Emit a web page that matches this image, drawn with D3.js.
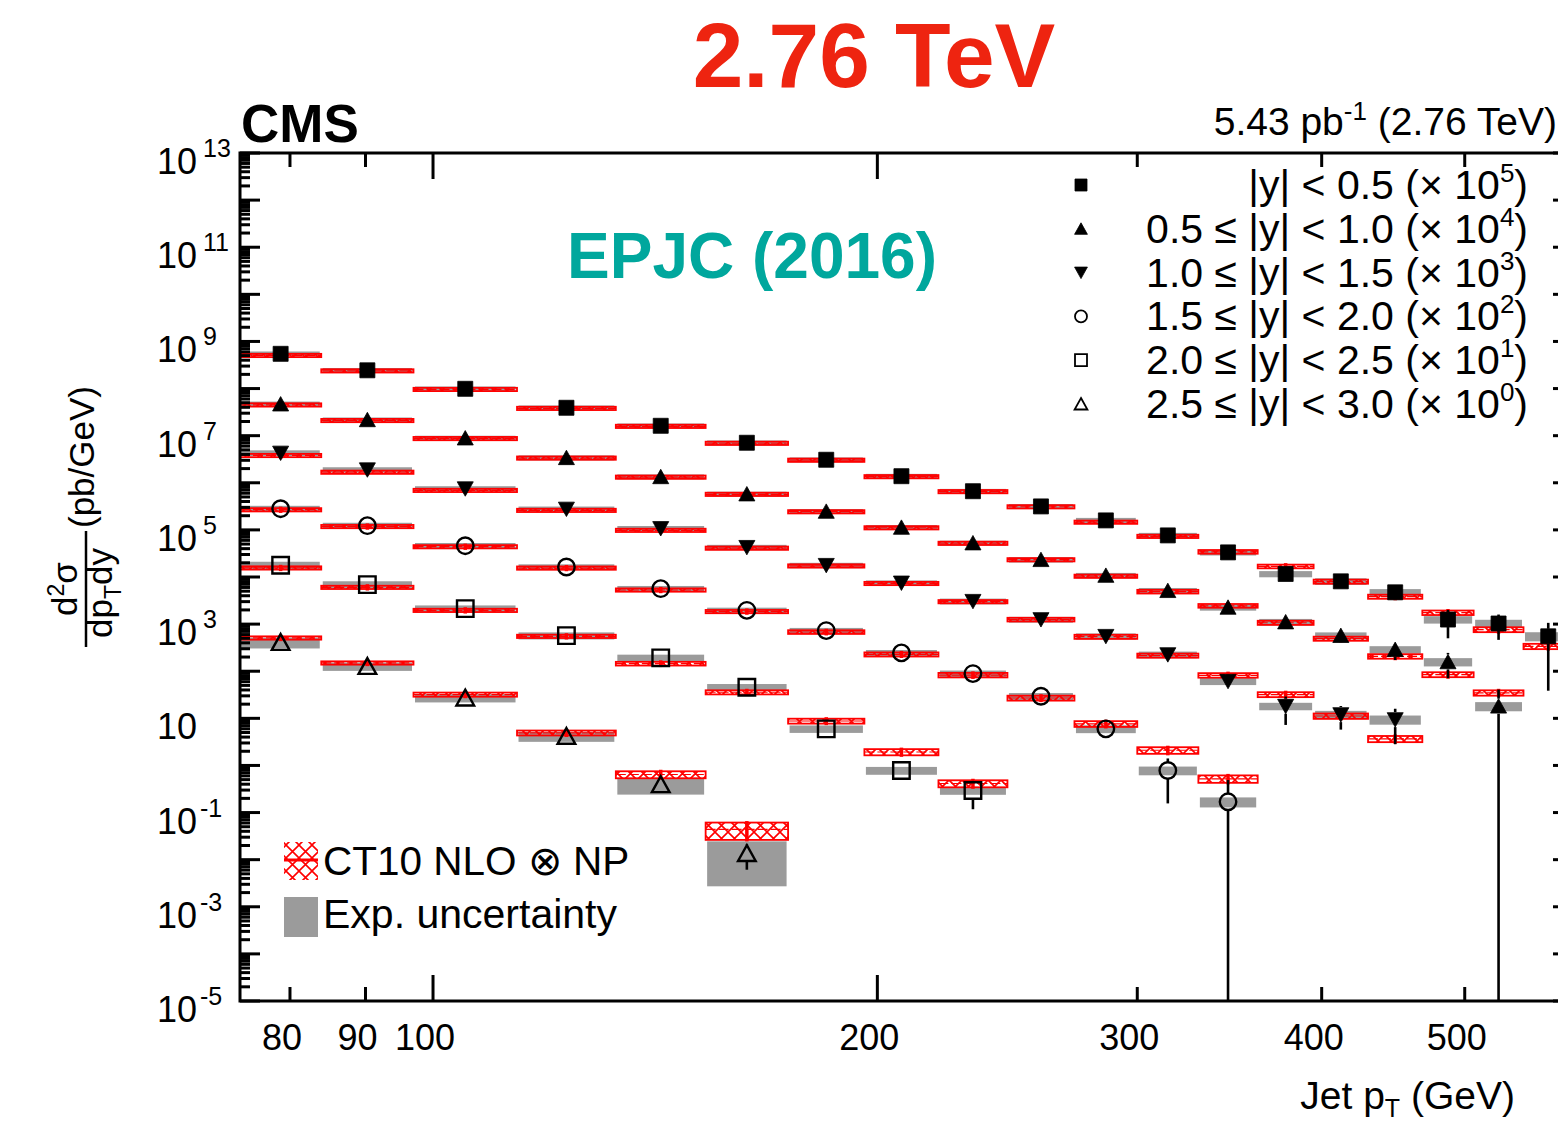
<!DOCTYPE html>
<html>
<head>
<meta charset="utf-8">
<script src="https://cdn.jsdelivr.net/npm/d3@7"></script>
<style>
  html, body { margin: 0; padding: 0; background: #fff; }
  svg { display: block; font-family: "Liberation Sans", Arial, Helvetica, sans-serif; }
</style>
</head>
<body>
<svg id="chart" width="1558" height="1126"></svg>
<script>
// Jet pT bin edges (GeV)
const binEdges = [74, 84, 97, 114, 133, 153, 174, 196, 220, 245, 272, 300, 330, 362, 395, 430, 468, 507, 548, 592];

// Rapidity ranges and the power of ten each one is scaled by
const rapidityLow  = ["", "0.5", "1.0", "1.5", "2.0", "2.5"];
const rapidityHigh = ["0.5", "1.0", "1.5", "2.0", "2.5", "3.0"];
const scaleExponents = [5, 4, 3, 2, 1, 0];
const markerShapes = ["squareFilled", "triUpFilled", "triDownFilled", "circleOpen", "squareOpen", "triUpOpen"];

// Measured cross sections d2sigma/dpT dy (pb/GeV), unscaled, one row per rapidity bin
const measured = [
  [5460, 2440, 988, 391, 162, 70.7, 30.8, 13.8, 6.62, 3.15, 1.59, 0.764, 0.333, 0.116, 0.0809, 0.0473, 0.0125, 0.0103, 0.00551],
  [4680, 2170, 889, 340, 134, 57.7, 24.7, 11.3, 5.27, 2.33, 1.08, 0.513, 0.227, 0.111, 0.057, 0.0288, 0.0158, 0.00181],
  [4280, 1890, 748, 277, 107, 42.6, 17.7, 7.48, 3.05, 1.25, 0.551, 0.225, 0.0612, 0.0181, 0.0120, 0.0094],
  [2820, 1230, 462, 163, 56.6, 19.6, 7.28, 2.45, 0.891, 0.294, 0.0598, 0.00782, 0.00169],
  [1770, 688, 213, 57.0, 19.2, 4.57, 0.598, 0.0782, 0.0294],
  [411, 127, 27.2, 4.17, 0.394, 0.0136]
];

// CT10 NLO x NP predictions (pb/GeV), unscaled
const theory = [
  [5050, 2380, 960, 380, 158, 69, 30.2, 13.5, 6.5, 3.1, 1.46, 0.73, 0.343, 0.168, 0.080, 0.0383, 0.0175, 0.00766, 0.00338],
  [4500, 2100, 870, 335, 132, 57, 24.3, 11.1, 5.2, 2.33, 1.04, 0.49, 0.245, 0.107, 0.0492, 0.0207, 0.00849, 0.00348],
  [3800, 1680, 690, 260, 98, 41, 17.2, 7.3, 3.0, 1.25, 0.54, 0.215, 0.082, 0.032, 0.0112, 0.00367],
  [2680, 1180, 440, 155, 53, 18.5, 6.8, 2.28, 0.83, 0.27, 0.0764, 0.0210, 0.00521],
  [1560, 604, 196, 55.1, 14.5, 3.58, 0.877, 0.193, 0.0414],
  [509, 150, 32.0, 4.92, 0.643, 0.0438]
];

// Relative experimental (systematic) uncertainty
const expUnc = [
  [0.12, 0.12, 0.12, 0.12, 0.12, 0.12, 0.12, 0.12, 0.12, 0.12, 0.13, 0.13, 0.14, 0.15, 0.16, 0.17, 0.18, 0.2, 0.22],
  [0.13, 0.12, 0.12, 0.12, 0.12, 0.12, 0.12, 0.12, 0.12, 0.13, 0.13, 0.14, 0.15, 0.16, 0.17, 0.18, 0.2, 0.22],
  [0.14, 0.13, 0.13, 0.13, 0.13, 0.13, 0.13, 0.13, 0.14, 0.14, 0.15, 0.16, 0.17, 0.18, 0.2, 0.22],
  [0.15, 0.15, 0.14, 0.14, 0.14, 0.14, 0.14, 0.15, 0.16, 0.17, 0.19, 0.21, 0.24],
  [0.19, 0.18, 0.17, 0.17, 0.17, 0.17, 0.18, 0.19, 0.19],
  [0.26, 0.2, 0.2, 0.24, 0.39, 0.8]
];

// Relative statistical uncertainty
const statUnc = [
  [0.005, 0.005, 0.005, 0.006, 0.008, 0.01, 0.012, 0.015, 0.02, 0.025, 0.03, 0.04, 0.06, 0.09, 0.12, 0.3, 0.6, 0.55, 0.93],
  [0.005, 0.005, 0.006, 0.008, 0.01, 0.012, 0.015, 0.02, 0.025, 0.03, 0.04, 0.06, 0.08, 0.12, 0.2, 0.4, 0.55, 1.25],
  [0.006, 0.006, 0.008, 0.01, 0.012, 0.015, 0.02, 0.03, 0.04, 0.05, 0.07, 0.1, 0.3, 0.6, 0.52, 0.7],
  [0.008, 0.008, 0.01, 0.012, 0.015, 0.02, 0.03, 0.04, 0.06, 0.1, 0.3, 0.8, 1.9],
  [0.01, 0.012, 0.015, 0.02, 0.03, 0.05, 0.08, 0.3, 0.6],
  [0.02, 0.03, 0.05, 0.08, 0.3, 0.55]
];

// Relative theory uncertainty
const theoryUnc = [
  [0.08, 0.08, 0.08, 0.08, 0.08, 0.08, 0.08, 0.08, 0.08, 0.08, 0.08, 0.08, 0.09, 0.09, 0.1, 0.1, 0.11, 0.12, 0.13],
  [0.08, 0.08, 0.08, 0.08, 0.08, 0.08, 0.08, 0.08, 0.08, 0.08, 0.08, 0.09, 0.09, 0.1, 0.1, 0.11, 0.12, 0.13],
  [0.08, 0.08, 0.08, 0.08, 0.08, 0.08, 0.08, 0.08, 0.08, 0.09, 0.1, 0.1, 0.11, 0.12, 0.13, 0.15],
  [0.08, 0.08, 0.08, 0.08, 0.08, 0.08, 0.09, 0.1, 0.11, 0.12, 0.14, 0.16, 0.18],
  [0.08, 0.08, 0.08, 0.08, 0.09, 0.1, 0.12, 0.15, 0.17],
  [0.08, 0.08, 0.1, 0.12, 0.17, 0.4]
];

// Axis tick values
const xTickValues = [80, 90, 100, 200, 300, 400, 500];
const xMajorTicks = [100, 200];
const yDecades = d3.range(-5, 14);
const yLabelExponents = [13, 11, 9, 7, 5, 3, 1, -1, -3, -5];

// ---------------------------------------------------------------
const svg = d3.select("#chart");
const plot = { left: 240, right: 1573, top: 153, bottom: 1001 };

const x = d3.scaleLog().domain([binEdges[0], binEdges[binEdges.length - 1]]).range([plot.left, plot.right]);
const y = d3.scaleLog().domain([1e-5, 1e13]).range([plot.bottom, plot.top]).clamp(true);

const RED = "#ff0000";
const GREY = "#9b9b9b";

const defs = svg.append("defs");
defs.append("clipPath").attr("id", "plotClip")
  .append("rect").attr("x", plot.left - 3).attr("y", plot.top)
  .attr("width", plot.right - plot.left + 3).attr("height", plot.bottom - plot.top);

const hatch = defs.append("pattern").attr("id", "xhatch")
  .attr("patternUnits", "userSpaceOnUse").attr("width", 13).attr("height", 13);
hatch.append("path").attr("d", "M0,0L13,13M13,0L0,13M-1,12L1,14M12,-1L14,1")
  .attr("stroke", RED).attr("stroke-width", 1.6).attr("fill", "none");

// ---------- marker shapes ----------
function markerPath(shape, s) {
  const h = s / 2;
  if (shape.startsWith("square")) return `M${-h},${-h}h${s}v${s}h${-s}Z`;
  if (shape.startsWith("triUp")) return `M0,${-h}L${h * 1.07},${h * 0.92}L${-h * 1.07},${h * 0.92}Z`;
  if (shape.startsWith("triDown")) return `M0,${h}L${h * 1.07},${-h * 0.92}L${-h * 1.07},${-h * 0.92}Z`;
  const r = h;
  return `M${r},0A${r},${r} 0 1,1 ${-r},0A${r},${r} 0 1,1 ${r},0Z`;
}
function drawMarker(g, shape, cx, cy, s, sw) {
  const open = shape.endsWith("Open");
  g.append("path")
    .attr("d", markerPath(shape, s))
    .attr("transform", `translate(${cx},${cy})`)
    .attr("fill", open ? "none" : "#000")
    .attr("stroke", "#000")
    .attr("stroke-width", open ? sw : 0.8);
}

// ---------- data layers ----------
const layer = svg.append("g").attr("clip-path", "url(#plotClip)");
const greyLayer = layer.append("g");
const redLayer = layer.append("g");
const dataLayer = layer.append("g");

const MARK = 15;
const OPEN_MARK = 16.5;

measured.forEach((row, s) => {
  const f = Math.pow(10, scaleExponents[s]);
  const open = markerShapes[s].endsWith("Open");
  const size = open ? OPEN_MARK : MARK;
  row.forEach((v, i) => {
    const lo = binEdges[i], hi = binEdges[i + 1];
    const x0 = x(lo), x1 = x(hi);
    const xc = x(Math.sqrt(lo * hi));
    const val = v * f;

    // experimental uncertainty band
    const eu = expUnc[s][i];
    const gTop = y(val * (1 + eu));
    const gBot = y(Math.max(val * (1 - eu), 1e-6));
    greyLayer.append("rect")
      .attr("x", x0 + 1.5).attr("y", gTop)
      .attr("width", x1 - x0 - 3).attr("height", Math.max(gBot - gTop, 3))
      .attr("fill", GREY);

    // theory band: hatched box, central line and centre tick
    const t = theory[s][i] * f;
    const tu = theoryUnc[s][i];
    const tTop = y(t * (1 + tu));
    const tBot = y(t * (1 - tu));
    redLayer.append("rect")
      .attr("x", x0).attr("y", tTop)
      .attr("width", x1 - x0).attr("height", tBot - tTop)
      .attr("fill", "url(#xhatch)")
      .attr("stroke", RED).attr("stroke-width", 1.8);
    redLayer.append("line")
      .attr("x1", x0).attr("x2", x1).attr("y1", y(t)).attr("y2", y(t))
      .attr("stroke", RED).attr("stroke-width", 1.2)
      .attr("stroke-dasharray", "10,3");
    redLayer.append("line")
      .attr("x1", xc).attr("x2", xc).attr("y1", tTop - 1.5).attr("y2", tBot + 1.5)
      .attr("stroke", RED).attr("stroke-width", 3.5);

    // statistical error bar, drawn outside the marker
    const su = statUnc[s][i];
    const yc = y(val);
    const eTop = y(val * (1 + su));
    const eBot = val * (1 - su) > 0 ? y(val * (1 - su)) : plot.bottom;
    const half = size / 2;
    if (yc - eTop > half) {
      dataLayer.append("line").attr("x1", xc).attr("x2", xc)
        .attr("y1", eTop).attr("y2", yc - half)
        .attr("stroke", "#000").attr("stroke-width", 2.6);
    }
    if (eBot - yc > half) {
      dataLayer.append("line").attr("x1", xc).attr("x2", xc)
        .attr("y1", yc + half).attr("y2", eBot)
        .attr("stroke", "#000").attr("stroke-width", 2.6);
    }
    drawMarker(dataLayer, markerShapes[s], xc, yc, size, 2.4);
  });
});

// ---------- frame and axes ----------
const axes = svg.append("g");
axes.append("rect")
  .attr("x", plot.left).attr("y", plot.top)
  .attr("width", plot.right - plot.left).attr("height", plot.bottom - plot.top)
  .attr("fill", "none").attr("stroke", "#000").attr("stroke-width", 3);

// y ticks on both sides, pointing inward
yDecades.forEach(e => {
  for (let k = 1; k <= 9; k++) {
    const v = k * Math.pow(10, e);
    if (v > 1e13 * 1.0001) continue;
    const yy = y(v);
    const len = k === 1 ? 20 : 10;
    axes.append("line").attr("x1", plot.left).attr("x2", plot.left + len)
      .attr("y1", yy).attr("y2", yy).attr("stroke", "#000").attr("stroke-width", 3);
    axes.append("line").attr("x1", plot.right).attr("x2", plot.right - len)
      .attr("y1", yy).attr("y2", yy).attr("stroke", "#000").attr("stroke-width", 3);
  }
});

// y tick labels
yLabelExponents.forEach(e => {
  const t = axes.append("text")
    .attr("x", 157).attr("y", y(Math.pow(10, e)) + 21)
    .attr("font-size", 36).attr("fill", "#000");
  t.append("tspan").text("10");
  if (e !== 1) {
    t.append("tspan").attr("dx", e < 0 ? 3 : 6).attr("dy", -17)
      .attr("font-size", 25).text(e < 0 ? "-" + Math.abs(e) : String(e));
  }
});

// x ticks (bottom and top, inward) and labels
xTickValues.forEach(v => {
  const xx = x(v);
  const len = xMajorTicks.includes(v) ? 26 : 14;
  axes.append("line").attr("x1", xx).attr("x2", xx)
    .attr("y1", plot.bottom).attr("y2", plot.bottom - len)
    .attr("stroke", "#000").attr("stroke-width", 3);
  axes.append("line").attr("x1", xx).attr("x2", xx)
    .attr("y1", plot.top).attr("y2", plot.top + len)
    .attr("stroke", "#000").attr("stroke-width", 3);
  axes.append("text")
    .attr("x", xx - 8).attr("y", 1050)
    .attr("text-anchor", "middle").attr("font-size", 36)
    .text(v);
});

// x axis title
const xt = axes.append("text").attr("x", 1515).attr("y", 1109)
  .attr("text-anchor", "end").attr("font-size", 39);
xt.append("tspan").text("Jet p");
xt.append("tspan").attr("font-size", 25).attr("dy", 8).text("T");
xt.append("tspan").attr("dy", -8).text(" (GeV)");

// y axis title: d2sigma / (dpT dy) (pb/GeV)
const yt = axes.append("g").attr("transform", "translate(86,589) rotate(-90)");
const num = yt.append("text").attr("x", 0).attr("y", -9)
  .attr("text-anchor", "middle").attr("font-size", 35);
num.append("tspan").text("d");
num.append("tspan").attr("font-size", 23).attr("dy", -13).text("2");
num.append("tspan").attr("dy", 13).text("σ");
yt.append("line").attr("x1", -58).attr("x2", 58).attr("y1", 0).attr("y2", 0)
  .attr("stroke", "#000").attr("stroke-width", 2.5);
const den = yt.append("text").attr("x", -4).attr("y", 26)
  .attr("text-anchor", "middle").attr("font-size", 35);
den.append("tspan").text("dp");
den.append("tspan").attr("font-size", 23).attr("dy", 9).text("T");
den.append("tspan").attr("dy", -9).text("dy");
yt.append("text").attr("x", 61).attr("y", 8)
  .attr("font-size", 35).text("(pb/GeV)");

// ---------- header texts ----------
svg.append("text").attr("x", 874).attr("y", 87)
  .attr("text-anchor", "middle").attr("font-size", 91).attr("font-weight", "bold")
  .attr("fill", "#ee2410").text("2.76 TeV");

svg.append("text").attr("x", 241).attr("y", 142)
  .attr("font-size", 53).attr("font-weight", "bold").text("CMS");

const lumi = svg.append("text").attr("x", 1557).attr("y", 135)
  .attr("text-anchor", "end").attr("font-size", 39);
lumi.append("tspan").text("5.43 pb");
lumi.append("tspan").attr("font-size", 26).attr("dy", -15).text("-1");
lumi.append("tspan").attr("dy", 15).text(" (2.76 TeV)");

svg.append("text").attr("x", 567).attr("y", 278)
  .attr("font-size", 64).attr("font-weight", "bold")
  .attr("fill", "#00a79d").text("EPJC (2016)");

// ---------- rapidity legend (top right) ----------
const leg = svg.append("g");
measured.forEach((row, s) => {
  const cy = 185 + s * 43.8;
  drawMarker(leg, markerShapes[s], 1081, cy, 12, 1.8);
  const t = leg.append("text").attr("x", 1528).attr("y", cy + 14)
    .attr("text-anchor", "end").attr("font-size", 41);
  const prefix = rapidityLow[s] ? `${rapidityLow[s]} ≤ ` : "";
  t.append("tspan").text(`${prefix}|y| < ${rapidityHigh[s]} (× 10`);
  t.append("tspan").attr("font-size", 26).attr("dy", -17).text(String(scaleExponents[s]));
  t.append("tspan").attr("dy", 17).text(")");
});

// ---------- theory / uncertainty legend (bottom left) ----------
const leg2 = svg.append("g");
leg2.append("rect").attr("x", 284).attr("y", 842).attr("width", 34).attr("height", 38)
  .attr("fill", "url(#xhatch)").attr("stroke", "none");
leg2.append("line").attr("x1", 284).attr("x2", 318).attr("y1", 860).attr("y2", 860)
  .attr("stroke", RED).attr("stroke-width", 3);
leg2.append("text").attr("x", 323).attr("y", 875).attr("font-size", 40.5)
  .text("CT10 NLO ⊗ NP");
leg2.append("rect").attr("x", 284).attr("y", 897).attr("width", 34).attr("height", 40)
  .attr("fill", GREY);
leg2.append("text").attr("x", 323).attr("y", 928).attr("font-size", 41)
  .text("Exp. uncertainty");
</script>
</body>
</html>
